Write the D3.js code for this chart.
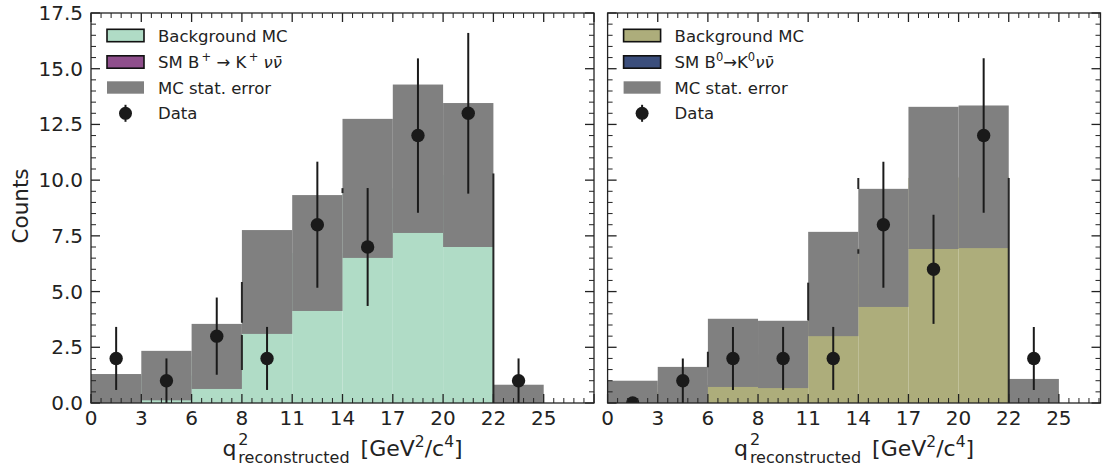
<!DOCTYPE html>
<html>
<head>
<meta charset="utf-8">
<script src="https://cdn.jsdelivr.net/npm/d3@7/dist/d3.min.js"></script>
<style>
  html, body { margin: 0; padding: 0; background: #fff; }
  svg { display: block; font-family: "DejaVu Sans", sans-serif; }
</style>
</head>
<body>
<svg id="chart" width="1113" height="472"></svg>
<script>
// Bin edges of q^2 (GeV^2/c^4), shown as equal-width bins
const binEdgeLabels = ["0", "3", "6", "8", "11", "14", "17", "20", "22", "25"];

// Charged channel: B+ -> K+ nu nubar
const chargedBackground = [0.65, 1.23, 2.09, 5.43, 6.73, 9.63, 10.96, 10.23, 0.41];
const chargedMcError    = [0.65, 1.11, 1.46, 2.33, 2.60, 3.12, 3.33, 3.23, 0.41];
const chargedData       = [2, 1, 3, 2, 8, 7, 12, 13, 1];
const chargedEdgeLines  = [[3, 3.6, 5.43], [3, 1.48, 3.05], [5, 9.42, 9.64], [8, 0, 10.3]];

// Neutral channel: B0 -> K0 nu nubar
const neutralBackground = [0.50, 0.81, 2.25, 2.18, 5.34, 6.96, 10.10, 10.15, 0.54];
const neutralMcError    = [0.50, 0.81, 1.53, 1.51, 2.34, 2.65, 3.19, 3.20, 0.54];
const neutralData       = [0, 1, 2, 2, 2, 8, 6, 12, 2];
const neutralEdgeLines  = [[2, 1.6, 2.3], [4, 3.7, 5.4], [5, 9.6, 10.1], [5, 6.7, 6.9], [8, 0, 10.1]];

const yTicks = [0, 2.5, 5, 7.5, 10, 12.5, 15, 17.5];

const svg = d3.select("#chart");
const INK = "#1a1a1a";
const GRAY = "#808080";

const plotTop = 13, plotBottom = 403;
const y = d3.scaleLinear().domain([0, 17.5]).range([plotBottom, plotTop]);

function drawPanel(opt) {
  const x = d3.scaleLinear().domain([0, opt.xmax]).range([opt.x0, opt.x1]);
  const g = svg.append("g");
  const clipId = "clip-" + opt.id;
  svg.append("defs").append("clipPath").attr("id", clipId)
    .append("rect").attr("x", opt.x0).attr("y", plotTop)
    .attr("width", opt.x1 - opt.x0).attr("height", plotBottom - plotTop);

  const plot = g.append("g").attr("clip-path", `url(#${clipId})`);
  const bins = opt.background.map((b, i) => ({ i, b, e: opt.error[i], d: opt.data[i] }));

  // background MC histogram
  plot.selectAll("rect.bg").data(bins).join("rect")
    .attr("x", d => x(d.i)).attr("width", d => x(d.i + 1) - x(d.i))
    .attr("y", d => y(d.b)).attr("height", d => y(0) - y(d.b))
    .attr("fill", opt.fill);

  // MC statistical uncertainty band
  plot.selectAll("rect.err").data(bins).join("rect")
    .attr("x", d => x(d.i)).attr("width", d => x(d.i + 1) - x(d.i))
    .attr("y", d => y(d.b + d.e))
    .attr("height", d => y(Math.max(0, d.b - d.e)) - y(d.b + d.e))
    .attr("fill", GRAY);

  // bin-edge outline pieces
  plot.selectAll("line.edge").data(opt.edges).join("line")
    .attr("x1", d => x(d[0])).attr("x2", d => x(d[0]))
    .attr("y1", d => y(d[1])).attr("y2", d => y(d[2]))
    .attr("stroke", "#262626").attr("stroke-width", 2);

  // data points with sqrt(N) uncertainties
  plot.selectAll("line.eb").data(bins.filter(d => d.d > 0)).join("line")
    .attr("x1", d => x(d.i + 0.5)).attr("x2", d => x(d.i + 0.5))
    .attr("y1", d => y(d.d + Math.sqrt(d.d))).attr("y2", d => y(Math.max(0, d.d - Math.sqrt(d.d))))
    .attr("stroke", INK).attr("stroke-width", 2);
  plot.selectAll("circle.pt").data(bins).join("circle")
    .attr("cx", d => x(d.i + 0.5)).attr("cy", d => y(d.d)).attr("r", 6.7)
    .attr("fill", INK);

  // frame
  g.append("rect").attr("x", opt.x0).attr("y", plotTop)
    .attr("width", opt.x1 - opt.x0).attr("height", plotBottom - plotTop)
    .attr("fill", "none").attr("stroke", "#222").attr("stroke-width", 1.3);

  // x ticks (inward, top and bottom)
  const xMajor = d3.range(0, Math.floor(opt.xmax) + 1);
  const xMinor = d3.range(0, Math.round(opt.xmax * 5) + 1).map(k => k / 5).filter(v => Math.abs(v - Math.round(v)) > 1e-6);
  const tk = g.append("g").attr("stroke", "#222");
  xMajor.forEach(v => {
    tk.append("line").attr("x1", x(v)).attr("x2", x(v)).attr("y1", plotBottom).attr("y2", plotBottom - 9).attr("stroke-width", 1.3);
    tk.append("line").attr("x1", x(v)).attr("x2", x(v)).attr("y1", plotTop).attr("y2", plotTop + 9).attr("stroke-width", 1.3);
  });
  xMinor.forEach(v => {
    tk.append("line").attr("x1", x(v)).attr("x2", x(v)).attr("y1", plotBottom).attr("y2", plotBottom - 5).attr("stroke-width", 1);
    tk.append("line").attr("x1", x(v)).attr("x2", x(v)).attr("y1", plotTop).attr("y2", plotTop + 5).attr("stroke-width", 1);
  });
  g.selectAll("text.xt").data(binEdgeLabels).join("text")
    .attr("x", (d, i) => x(i)).attr("y", plotBottom + 22)
    .attr("text-anchor", "middle").attr("font-size", 20).attr("fill", "#222")
    .text(d => d);

  // y ticks (inward, left and right)
  const yMinor = d3.range(0, 36).map(k => k * 0.5).filter(v => Math.abs(v / 2.5 - Math.round(v / 2.5)) > 1e-6);
  yTicks.forEach(v => {
    tk.append("line").attr("x1", opt.x0).attr("x2", opt.x0 + 9).attr("y1", y(v)).attr("y2", y(v)).attr("stroke-width", 1.3);
    tk.append("line").attr("x1", opt.x1).attr("x2", opt.x1 - 9).attr("y1", y(v)).attr("y2", y(v)).attr("stroke-width", 1.3);
  });
  yMinor.forEach(v => {
    tk.append("line").attr("x1", opt.x0).attr("x2", opt.x0 + 5).attr("y1", y(v)).attr("y2", y(v)).attr("stroke-width", 1);
    tk.append("line").attr("x1", opt.x1).attr("x2", opt.x1 - 5).attr("y1", y(v)).attr("y2", y(v)).attr("stroke-width", 1);
  });
  if (opt.yLabels) {
    g.selectAll("text.yt").data(yTicks).join("text")
      .attr("x", opt.x0 - 8).attr("y", d => y(d) + 7)
      .attr("text-anchor", "end").attr("font-size", 20).attr("fill", "#222")
      .text(d => d.toFixed(1));
    g.append("text").attr("transform", `translate(${opt.x0 - 63},${(plotTop + plotBottom) / 2 - 2}) rotate(-90)`)
      .attr("text-anchor", "middle").attr("font-size", 21.5).attr("fill", "#222").text("Counts");
  }

  // x axis title: q^2_reconstructed [GeV^2/c^4]
  const xl = g.append("g");
  const qx = 0, base = 0;
  const q = xl.append("text").attr("x", qx).attr("y", base).attr("font-size", 22).attr("fill", "#222").text("q");
  const qw = q.node().getComputedTextLength();
  xl.append("text").attr("x", qx + qw + 2).attr("y", base - 11).attr("font-size", 16).attr("fill", "#222").text("2");
  const sub = xl.append("text").attr("x", qx + qw + 2).attr("y", base + 7).attr("font-size", 16).attr("fill", "#222").text("reconstructed");
  const sw = sub.node().getComputedTextLength();
  const unit = xl.append("text").attr("x", qx + qw + 2 + sw + 11).attr("y", base).attr("font-size", 22).attr("fill", "#222");
  unit.append("tspan").text("[GeV");
  unit.append("tspan").attr("dy", -9).attr("font-size", 15.5).text("2");
  unit.append("tspan").attr("dy", 9).text("/c");
  unit.append("tspan").attr("dy", -9).attr("font-size", 15.5).text("4");
  unit.append("tspan").attr("dy", 9).text("]");
  const bb = xl.node().getBBox();
  xl.attr("transform", `translate(${(opt.x0 + opt.x1) / 2 - (bb.x + bb.width / 2)},${plotBottom + 53})`);

  // legend
  const lg = g.append("g");
  const px = opt.x0 + 16, tx = opt.x0 + 67;
  const rows = [35.5, 62, 87.5, 113.3];
  lg.append("rect").attr("x", px).attr("y", rows[0] - 6.2).attr("width", 37).attr("height", 12.4)
    .attr("fill", opt.fill).attr("stroke", "#111").attr("stroke-width", 1.6);
  lg.append("rect").attr("x", px).attr("y", rows[1] - 6.2).attr("width", 37).attr("height", 12.4)
    .attr("fill", opt.sigFill).attr("stroke", "#111").attr("stroke-width", 1.6);
  lg.append("rect").attr("x", px).attr("y", rows[2] - 6.2).attr("width", 37).attr("height", 12.4)
    .attr("fill", GRAY);
  lg.append("line").attr("x1", px + 18.5).attr("x2", px + 18.5).attr("y1", rows[3] - 8.5).attr("y2", rows[3] + 8.5)
    .attr("stroke", INK).attr("stroke-width", 2);
  lg.append("circle").attr("cx", px + 18.5).attr("cy", rows[3]).attr("r", 6.5).attr("fill", INK);

  const lt = (r) => lg.append("text").attr("x", tx).attr("y", rows[r] + 6).attr("font-size", 16.5).attr("fill", "#222");
  lt(0).text("Background MC");
  const s = lt(1);
  opt.sigLabel(s);
  lt(2).text("MC stat. error");
  lt(3).text("Data");
}

drawPanel({
  id: "charged", x0: 91, x1: 594, xmax: 10, yLabels: true,
  background: chargedBackground, error: chargedMcError, data: chargedData, edges: chargedEdgeLines,
  fill: "#b0dcc6", sigFill: "#8f4f8c",
  sigLabel: t => {
    t.append("tspan").text("SM B");
    t.append("tspan").attr("dy", -7).attr("font-size", 11.5).text("\u2009+");
    t.append("tspan").attr("dy", 7).text(" \u2192 K");
    t.append("tspan").attr("dy", -7).attr("font-size", 11.5).text("\u2009+");
    t.append("tspan").attr("dy", 7).text(" ");
    t.append("tspan").attr("font-style", "italic").text("\u03bd\u03bd\u0304");
  }
});

drawPanel({
  id: "neutral", x0: 607.6, x1: 1100.5, xmax: 9.83, yLabels: false,
  background: neutralBackground, error: neutralMcError, data: neutralData, edges: neutralEdgeLines,
  fill: "#adad7b", sigFill: "#3b4e7c",
  sigLabel: t => {
    t.append("tspan").text("SM B");
    t.append("tspan").attr("dy", -7).attr("font-size", 11.5).text("0");
    t.append("tspan").attr("dy", 7).text("\u2192K");
    t.append("tspan").attr("dy", -7).attr("font-size", 11.5).text("0");
    t.append("tspan").attr("dy", 7).attr("font-style", "italic").text("\u03bd\u03bd\u0304");
  }
});
</script>
</body>
</html>
